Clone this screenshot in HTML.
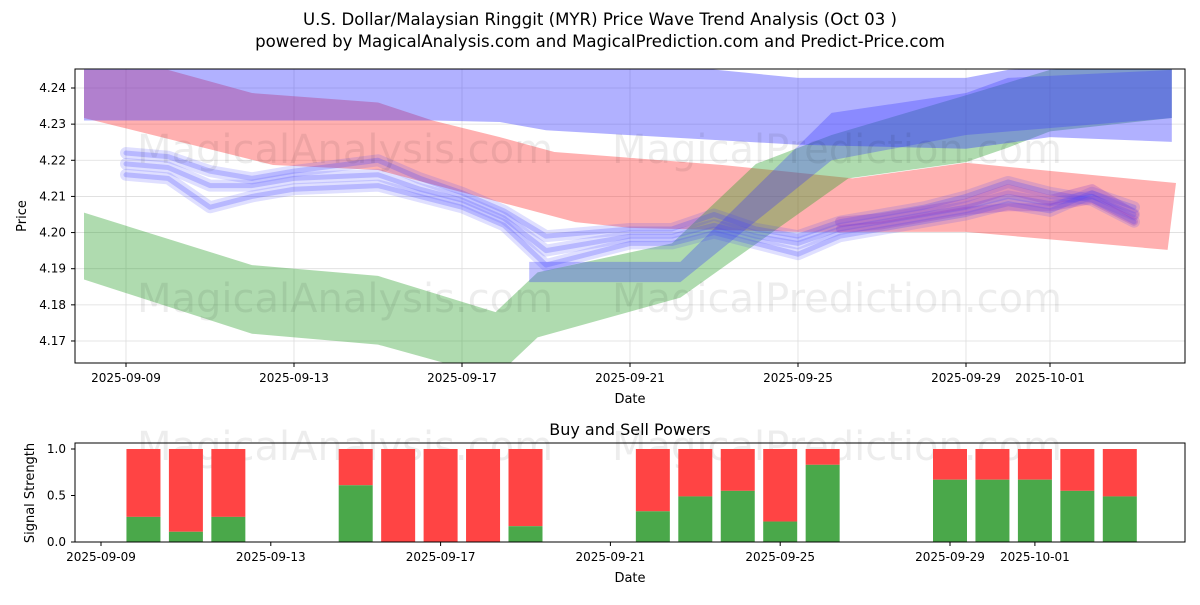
<!DOCTYPE html>
<html><head><meta charset="utf-8"><style>
body{margin:0;background:#fff;font-family:"Liberation Sans","DejaVu Sans",sans-serif}
svg text{font-family:"DejaVu Sans","Liberation Sans",sans-serif}
</style></head><body>
<svg id="c" width="1200" height="600" xmlns="http://www.w3.org/2000/svg">
<rect width="1200" height="600" fill="#fff"/>
<text x="600" y="25" text-anchor="middle" font-size="16.6">U.S. Dollar/Malaysian Ringgit (MYR) Price Wave Trend Analysis (Oct 03 )</text>
<text x="600" y="47" text-anchor="middle" font-size="16.6">powered by MagicalAnalysis.com and MagicalPrediction.com and Predict-Price.com</text>
<defs><clipPath id="cp1"><rect x="75" y="69" width="1110" height="294"/></clipPath></defs>
<g id="main" clip-path="url(#cp1)"></g>
<g id="wm1" font-size="40" fill="#000" fill-opacity="0.07">
<text x="345" y="163" text-anchor="middle">MagicalAnalysis.com</text>
<text x="837" y="163" text-anchor="middle">MagicalPrediction.com</text>
<text x="345" y="312" text-anchor="middle">MagicalAnalysis.com</text>
<text x="837" y="312" text-anchor="middle">MagicalPrediction.com</text>
<text x="345" y="460" text-anchor="middle">MagicalAnalysis.com</text>
<text x="837" y="460" text-anchor="middle">MagicalPrediction.com</text>
</g>
<rect x="75" y="69" width="1110" height="294" fill="none" stroke="#000" stroke-width="1"/>
<g id="axes"></g>
<text x="630" y="403" text-anchor="middle" font-size="13">Date</text>
<text x="26" y="216" text-anchor="middle" font-size="13" transform="rotate(-90 26 216)">Price</text>
<text x="630" y="435" text-anchor="middle" font-size="16">Buy and Sell Powers</text>
<g id="bars"></g>
<rect x="75" y="443" width="1110" height="99" fill="none" stroke="#000" stroke-width="1"/>
<text x="630" y="582" text-anchor="middle" font-size="13">Date</text>
<text x="34" y="493" text-anchor="middle" font-size="13" transform="rotate(-90 34 493)">Signal Strength</text>
</svg>
<script>
// day offsets relative to 2025-09-09
const greenUpDays=[-1,3,6,8.8,9.8,13,15,16.8,20,22,24.9];
const greenUpper=[4.2055,4.191,4.188,4.178,4.189,4.197,4.219,4.227,4.238,4.245,4.247];
const greenLoDays=[-1,3,6,8.8,9.8,13.2,17.2,20,21,22,24.9];
const greenLower=[4.187,4.172,4.169,4.160,4.171,4.182,4.215,4.2195,4.2235,4.228,4.2317];
const redUpDays=[-1,1,3,6,7.3,8.9,10.2,14.2,17.3,20,25];
const redUpper=[4.245,4.245,4.2386,4.236,4.231,4.2264,4.2223,4.2187,4.215,4.2193,4.2137];
const redLoDays=[-1,3.5,6,10.7,12,16,20,24.8];
const redLower=[4.2317,4.2187,4.2173,4.2029,4.2013,4.2002,4.2002,4.1952];
const blueAUpDays=[-1,8,16,20,21,24.9];
const blueAUpper=[4.256,4.252,4.2428,4.2428,4.245,4.247];
const blueALoDays=[-1,3.5,7.3,8.9,10,16,20,22,24.9];
const blueALower=[4.231,4.231,4.231,4.2306,4.2283,4.2243,4.2232,4.2264,4.2251];
const blueBUpDays=[9.6,13.2,16.8,20,21,24.9];
const blueBUpper=[4.1919,4.1919,4.2331,4.2386,4.2428,4.245];
const blueBLoDays=[9.6,13.2,16.8,20,24.9];
const blueBLower=[4.1863,4.1863,4.220,4.227,4.2317];
const blueDays=[0,1,2,3,4,6,7,8,9,10,11,12,13,14,15,16,17,18,19,20,21,22,23,24];
const blueA=[4.219,4.218,4.213,4.213,4.215,4.216,4.212,4.209,4.204,4.195,4.197,4.199,4.199,4.202,4.199,4.197,4.201,4.203,4.205,4.207,4.210,4.208,4.210,4.205];
const blueB=[4.222,4.221,4.217,4.215,4.217,4.220,4.215,4.211,4.206,4.199,4.200,4.201,4.201,4.205,4.201,4.199,4.203,4.205,4.207,4.210,4.214,4.211,4.209,4.203];
const blueC=[4.216,4.215,4.207,4.210,4.212,4.213,4.210,4.207,4.202,4.191,4.194,4.197,4.197,4.200,4.197,4.194,4.199,4.201,4.203,4.205,4.208,4.206,4.211,4.207];
const purpleDays=[17,18,19,20,21,22,23,24];
const purpleA=[4.203,4.204,4.206,4.208,4.212,4.209,4.212,4.205];
const purpleB=[4.201,4.202,4.204,4.206,4.207,4.207,4.209,4.203];
const barDays=[1,2,3,6,7,8,9,10,13,14,15,16,17,20,21,22,23,24];
const buyVals=[0.27,0.11,0.27,0.61,0,0,0,0.17,0.33,0.49,0.55,0.22,0.83,0.67,0.67,0.67,0.55,0.49];
const yTicks=[4.17,4.18,4.19,4.20,4.21,4.22,4.23,4.24];
const xTickDays=[0,4,8,12,16,20,22];
const xTickLabels=["2025-09-09","2025-09-13","2025-09-17","2025-09-21","2025-09-25","2025-09-29","2025-10-01"];
const sTicks=[0,0.5,1.0];
const sTickLabels=["0.0","0.5","1.0"];

const NS="http://www.w3.org/2000/svg";
const xm=d=>126+42*d, ym=v=>88+(4.24-v)*3614;
const xb=d=>101+42.45*d, yb=v=>542-v*93;
function mk(tag,attrs,parent){const e=document.createElementNS(NS,tag);for(const k in attrs)e.setAttribute(k,attrs[k]);parent.appendChild(e);return e;}
const main=document.getElementById('main'),axes=document.getElementById('axes'),bars=document.getElementById('bars');
yTicks.forEach(v=>{const l=mk('line',{x1:75,x2:1185,y1:ym(v),y2:ym(v),stroke:'#ddd','stroke-width':0.8},main);

});
xTickDays.forEach(d=>{const l=mk('line',{x1:xm(d),x2:xm(d),y1:69,y2:363,stroke:'#ddd','stroke-width':0.8},main);

});
function band(ud,up,ld,lo,color,op,name){
 let p=ud.map((d,i)=>xm(d)+','+ym(up[i])).concat(ld.map((d,i)=>xm(d)+','+ym(lo[i])).reverse());
 const e=mk('polygon',{points:p.join(' '),fill:color,'fill-opacity':op},main);
 
 
}
band(redUpDays,redUpper,redLoDays,redLower,'#ff3030',0.38,'red-wave-band');
band(greenUpDays,greenUpper,greenLoDays,greenLower,'#2ca02c',0.38,'green-wave-band');
band(blueAUpDays,blueAUpper,blueALoDays,blueALower,'#3333ff',0.38,'blue-wave-band');
band(blueBUpDays,blueBUpper,blueBLoDays,blueBLower,'#3333ff',0.3,'blue-wave-band-2');
function line(days,vals,color,w,op,name){
 const e=mk('polyline',{points:days.map((d,i)=>xm(d)+','+ym(vals[i])).join(' '),fill:'none',stroke:color,'stroke-width':w,'stroke-opacity':op,'stroke-linejoin':'round','stroke-linecap':'round'},main);
 
 
}
[blueB,blueC,blueA].forEach(s=>{line(blueDays,s,'#4444ff',12,0.17,'blue-trace');line(blueDays,s,'#4444ff',5,0.25,'blue-trace');});
line(purpleDays,purpleA,'#8833cc',10,0.25,'purple-trace');
line(purpleDays,purpleB,'#8833cc',8,0.25,'purple-trace');
yTicks.forEach(v=>{mk('line',{x1:71,x2:75,y1:ym(v),y2:ym(v),stroke:'#000'},axes);
const t=mk('text',{x:66,y:ym(v)+4,'text-anchor':'end','font-size':12},axes);t.textContent=v.toFixed(2);

});
xTickDays.forEach((d,i)=>{mk('line',{x1:xm(d),x2:xm(d),y1:363,y2:367,stroke:'#000'},axes);
const t=mk('text',{x:xm(d),y:382,'text-anchor':'middle','font-size':12},axes);t.textContent=xTickLabels[i];


mk('line',{x1:xb(d),x2:xb(d),y1:542,y2:546,stroke:'#000'},axes);
const t2=mk('text',{x:xb(d),y:561,'text-anchor':'middle','font-size':12},axes);t2.textContent=xTickLabels[i];

});
sTicks.forEach((v,i)=>{mk('line',{x1:71,x2:75,y1:yb(v),y2:yb(v),stroke:'#000'},axes);
const t=mk('text',{x:66,y:yb(v)+4,'text-anchor':'end','font-size':12},axes);t.textContent=sTickLabels[i];

});
barDays.forEach((d,i)=>{const x=xb(d)-17,b=buyVals[i];
const r=mk('rect',{x:x,y:yb(1),width:34,height:yb(b)-yb(1),fill:'#ff4444'},bars);


const g=mk('rect',{x:x,y:yb(b),width:34,height:yb(0)-yb(b),fill:'#4aa84a'},bars);

});
</script>
</body></html>
